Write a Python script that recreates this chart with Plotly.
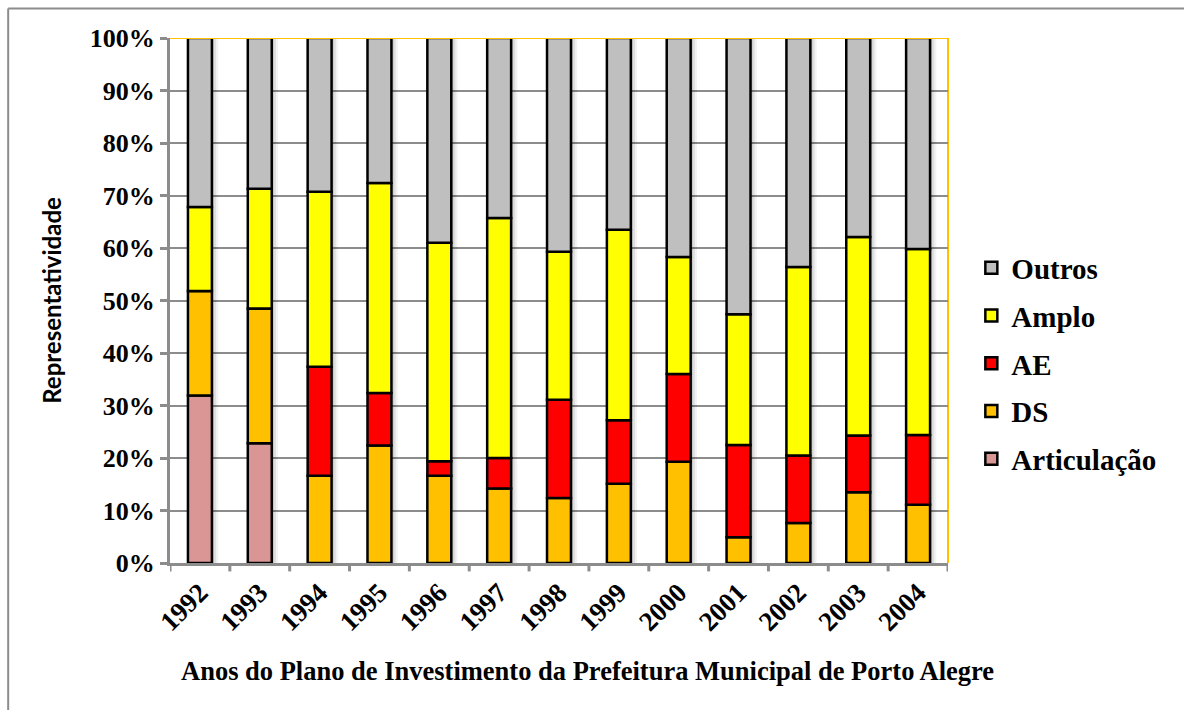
import numpy as np
import plotly.graph_objects as go

years = ["1992", "1993", "1994", "1995", "1996", "1997", "1998",
         "1999", "2000", "2001", "2002", "2003", "2004"]

# share of each group per year (%), bottom to top of each stack
articulacao = [31.9, 22.8, 0, 0, 0, 0, 0, 0, 0, 0, 0, 0, 0]
ds = [19.9, 25.7, 16.6, 22.4, 16.6, 14.2, 12.4, 15.1, 19.3, 4.9, 7.6, 13.5, 11.1]
ae = [0, 0, 20.8, 10.0, 2.8, 5.8, 18.7, 12.1, 16.7, 17.6, 12.9, 10.8, 13.3]
amplo = [16.0, 22.8, 33.3, 40.0, 41.6, 45.7, 28.2, 36.3, 22.3, 24.9, 35.9, 37.8, 35.4]
outros = [32.2, 28.7, 29.3, 27.6, 39.0, 34.3, 40.7, 36.5, 41.7, 52.6, 43.6, 37.9, 40.2]

series = [
    ("Articulação", articulacao, "#DA9694"),
    ("DS", ds, "#FFC000"),
    ("AE", ae, "#FF0000"),
    ("Amplo", amplo, "#FFFF00"),
    ("Outros", outros, "#BFBFBF"),
]

serif = "Times New Roman, Liberation Serif, serif"
x_idx = np.arange(len(years))
bar_w = 0.40

fig = go.Figure()

# soft drop shadow to the right of each column
totals = np.sum([s[1] for s in series], axis=0)
for shift, alpha in [(0.035, 0.12), (0.07, 0.08), (0.105, 0.05)]:
    fig.add_trace(go.Bar(
        x=x_idx, y=totals, base=0, width=bar_w, offset=-bar_w / 2 + shift,
        marker=dict(color=f"rgba(0,0,0,{alpha})", line=dict(width=0)),
        showlegend=False, hoverinfo="skip",
    ))

base = np.zeros(len(years))
for k, (name, vals, color) in enumerate(series):
    vals = np.array(vals, dtype=float)
    fig.add_trace(go.Bar(
        x=x_idx, y=vals, base=base.copy(), name=name, width=bar_w,
        marker=dict(color=color, line=dict(color="black", width=2.5)),
        legendgroup=name, legendrank=len(series) - k,
    ))
    base += vals

# plot frame: orange top/right edges
fig.add_shape(type="line", xref="paper", yref="y", x0=0, x1=1, y0=100, y1=100,
              line=dict(color="#FFC000", width=2), layer="above")
fig.add_shape(type="line", xref="paper", yref="paper", x0=1, x1=1, y0=0, y1=1,
              line=dict(color="#FFC000", width=2), layer="below")
# outer chart border (top and left)
fig.add_shape(type="line", xref="paper", yref="paper",
              x0=-0.208, x1=1.31, y0=1.056, y1=1.056,
              line=dict(color="#8C8C8C", width=2))
fig.add_shape(type="line", xref="paper", yref="paper",
              x0=-0.208, x1=-0.208, y0=1.056, y1=-0.3,
              line=dict(color="#8C8C8C", width=2))

fig.add_annotation(
    text="Anos do Plano de Investimento da Prefeitura Municipal de Porto Alegre",
    xref="paper", yref="paper", x=0.537, y=-0.2065, showarrow=False,
    xanchor="center", yanchor="middle",
    font=dict(family=serif, size=26.5, color="black", weight="bold"),
)

fig.update_layout(
    width=1184, height=710,
    margin=dict(l=170, r=236, t=38, b=146.5),
    paper_bgcolor="white", plot_bgcolor="white",
    barmode="overlay", bargap=0.6,
    showlegend=True,
    legend=dict(
        x=1.030, y=0.38, xanchor="left", yanchor="middle",
        traceorder="grouped", tracegroupgap=7,
        font=dict(family=serif, size=29, color="black", weight="bold"),
        bgcolor="rgba(0,0,0,0)", itemwidth=30,
    ),
    xaxis=dict(
        tickmode="array", tickvals=list(x_idx), ticktext=years,
        range=[-0.5, len(years) - 0.5], tickangle=-45,
        showline=True, linecolor="#8C8C8C", linewidth=3,
        ticks="", showgrid=False, zeroline=False,
        tickfont=dict(family=serif, size=27, color="black", weight="bold"),
    ),
    yaxis=dict(
        range=[0, 100], dtick=10, ticksuffix="%",
        showline=True, linecolor="#8C8C8C", linewidth=3,
        ticks="outside", tickcolor="#8C8C8C", tickwidth=3, ticklen=7,
        showgrid=True, gridcolor="#8C8C8C", gridwidth=1.5, zeroline=False,
        tickfont=dict(family=serif, size=26, color="black", weight="bold"),
        title=dict(text="Representatividade", standoff=22,
                   font=dict(family="Lato", size=24, color="black", weight="bold")),
    ),
)

# boundary ticks between categories on the x axis
for i in range(len(years) + 1):
    fig.add_shape(type="line", xref="x", yref="paper", x0=i - 0.5, x1=i - 0.5,
                  y0=0, y1=-0.016, line=dict(color="#8C8C8C", width=3))

fig.write_html("out.html")
